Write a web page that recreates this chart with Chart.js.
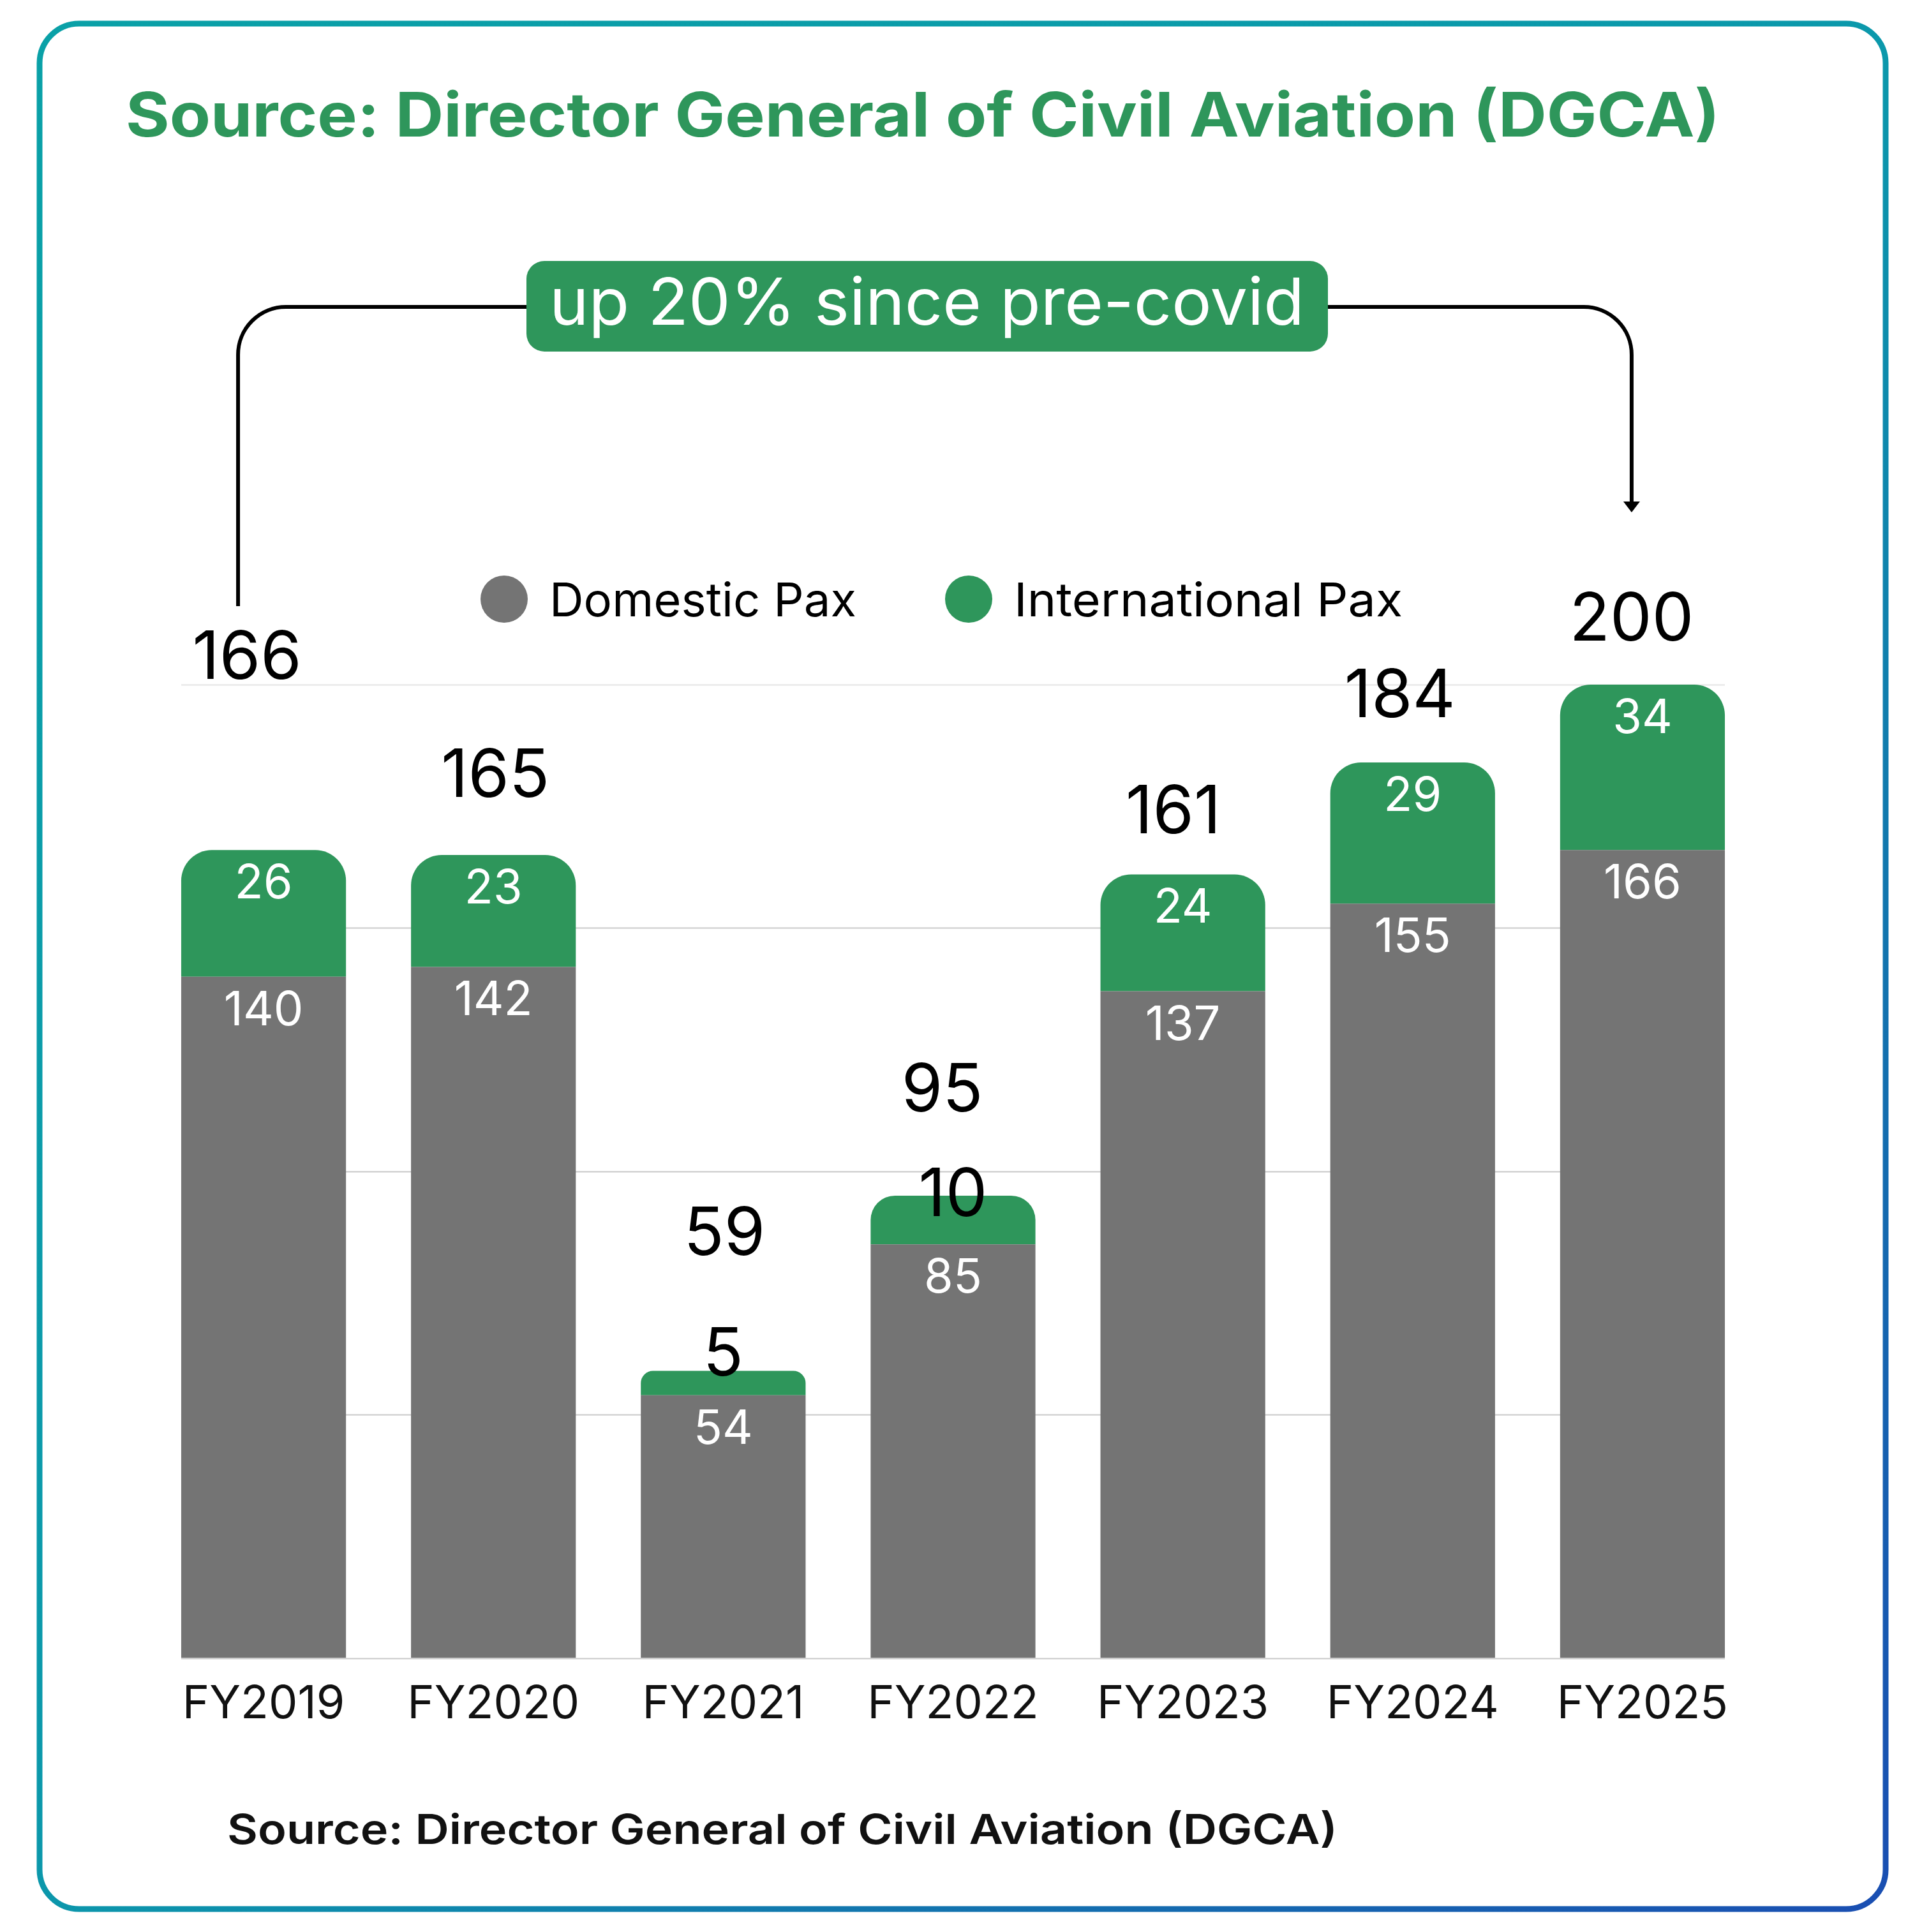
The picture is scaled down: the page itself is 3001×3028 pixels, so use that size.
<!DOCTYPE html>
<html>
<head>
<meta charset="utf-8">
<title>Domestic and International Pax</title>
<script src="https://cdn.jsdelivr.net/npm/chart.js@4.4.1/dist/chart.umd.min.js"></script>
<style>
  html, body { margin: 0; padding: 0; background: #fff; }
  #wrap { width: 3001px; height: 3028px; position: relative; }
</style>
</head>
<body>
<div id="wrap"><canvas id="paxChart"></canvas></div>
<script>
// values (million passengers)
const years = ["FY2019", "FY2020", "FY2021", "FY2022", "FY2023", "FY2024", "FY2025"];
const domesticPax = [140, 142, 54, 85, 137, 155, 166];
const internationalPax = [26, 23, 5, 10, 24, 29, 34];
const totalPax = [166, 165, 59, 95, 161, 184, 200];
const gridValues = [0, 50, 100, 150, 200];

const GREEN = "#2e965b";
const GREY = "#747474";
const FONT = "Inter, 'Open Sans', sans-serif";

// how far the big black labels sit above their bar top, and sideways nudge (px)
const totalLift = [268, 91, 182, 132, 64, 71, 69];
const totalShift = [-26, 3, 2, -17, -15, -20, -17];
// small international values are written in black over the bar top
const smallIntlLift = [null, null, -7, -32, null, null, null];

function fitText(ctx, text, x, y, width, font, color) {
  ctx.save();
  ctx.font = font;
  ctx.fillStyle = color;
  ctx.textAlign = "left";
  ctx.textBaseline = "alphabetic";
  const w = ctx.measureText(text).width;
  ctx.translate(x, y);
  ctx.scale(width / w, 1);
  ctx.fillText(text, 0, 0);
  ctx.restore();
}

function roundRect(ctx, x, y, w, h, r) {
  ctx.beginPath();
  ctx.moveTo(x + r, y);
  ctx.arcTo(x + w, y, x + w, y + h, r);
  ctx.arcTo(x + w, y + h, x, y + h, r);
  ctx.arcTo(x, y + h, x, y, r);
  ctx.arcTo(x, y, x + w, y, r);
  ctx.closePath();
}

const frame = {
  id: "frame",
  beforeDraw(chart) {
    const ctx = chart.ctx;
    ctx.save();
    ctx.fillStyle = "#fff";
    ctx.fillRect(0, 0, chart.width, chart.height);

    // card border with teal -> blue gradient
    const g = ctx.createLinearGradient(0, 0, chart.width, chart.height);
    g.addColorStop(0, "#0aa1a7");
    g.addColorStop(0.5, "#0b98ab");
    g.addColorStop(1, "#1a4cb2");
    ctx.strokeStyle = g;
    ctx.lineWidth = 9;
    roundRect(ctx, 62, 37, 2893, 2955, 62);
    ctx.stroke();

    // heading
    fitText(ctx, "Source: Director General of Civil Aviation (DGCA)", 197, 214, 2498, "700 96px " + FONT, GREEN);

    // badge
    ctx.fillStyle = GREEN;
    roundRect(ctx, 825, 409, 1256, 142, 28);
    ctx.fill();
    fitText(ctx, "up 20% since pre-covid", 861, 509, 1183, "400 102px " + FONT, "#fff");

    // bracket from FY2019 to FY2025
    const bars = chart.getDatasetMeta(1).data;
    const xL = bars[0].x - 40;
    const xR = bars[bars.length - 1].x - 17;
    const yTop = 481, r = 75;
    ctx.strokeStyle = "#000";
    ctx.lineWidth = 6;
    ctx.beginPath();
    ctx.moveTo(xL, 950);
    ctx.lineTo(xL, yTop + r);
    ctx.arcTo(xL, yTop, xL + r, yTop, r);
    ctx.lineTo(825, yTop);
    ctx.moveTo(2081, yTop);
    ctx.lineTo(xR - r, yTop);
    ctx.arcTo(xR, yTop, xR, yTop + r, r);
    ctx.lineTo(xR, 790);
    ctx.stroke();
    ctx.fillStyle = "#000";
    ctx.beginPath();
    ctx.moveTo(xR - 13, 786);
    ctx.lineTo(xR + 13, 786);
    ctx.lineTo(xR, 803);
    ctx.closePath();
    ctx.fill();

    // legend
    const legendX = [790, 1518];
    const legendW = [481, 609];
    chart.data.datasets.forEach((ds, i) => {
      ctx.fillStyle = ds.backgroundColor;
      ctx.beginPath();
      ctx.arc(legendX[i], 939, 37, 0, Math.PI * 2);
      ctx.fill();
      fitText(ctx, ds.label, legendX[i] + 71, 966, legendW[i], "400 73px " + FONT, "#000");
    });

    // footer
    fitText(ctx, "Source: Director General of Civil Aviation (DGCA)", 356, 2890, 1740, "600 65px " + FONT, "#111");
    ctx.restore();
  },
  beforeDatasetsDraw(chart) {
    const ctx = chart.ctx;
    const y = chart.scales.y;
    const bars = chart.getDatasetMeta(0).data;
    const x0 = bars[0].x - bars[0].width / 2;
    const x1 = bars[bars.length - 1].x + bars[bars.length - 1].width / 2;
    ctx.save();
    ctx.lineWidth = 2;
    gridValues.forEach(v => {
      const py = Math.round(y.getPixelForValue(v)) + 0.5;
      ctx.strokeStyle = v === y.max ? "#e4e4e4" : "#c9c9c9";
      ctx.beginPath();
      ctx.moveTo(x0, py);
      ctx.lineTo(x1, py);
      ctx.stroke();
    });
    ctx.restore();
  },
  afterDatasetsDraw(chart) {
    const ctx = chart.ctx;
    const dom = chart.getDatasetMeta(0).data;
    const intl = chart.getDatasetMeta(1).data;
    ctx.save();
    ctx.textAlign = "center";
    ctx.textBaseline = "alphabetic";
    dom.forEach((bar, i) => {
      ctx.font = "400 74px " + FONT;
      ctx.fillStyle = "#fff";
      ctx.fillText(String(domesticPax[i]), bar.x, bar.y + 76);
    });
    intl.forEach((bar, i) => {
      if (smallIntlLift[i] === null) {
        ctx.font = "400 74px " + FONT;
        ctx.fillStyle = "#fff";
        ctx.fillText(String(internationalPax[i]), bar.x, bar.y + 76);
      } else {
        ctx.font = "400 104px " + FONT;
        ctx.fillStyle = "#000";
        ctx.fillText(String(internationalPax[i]), bar.x, bar.y - smallIntlLift[i]);
      }
      ctx.font = "400 104px " + FONT;
      ctx.fillStyle = "#000";
      ctx.fillText(String(totalPax[i]), bar.x + totalShift[i], bar.y - totalLift[i]);
    });
    ctx.restore();
  }
};

new Chart(document.getElementById("paxChart"), {
  type: "bar",
  data: {
    labels: years,
    datasets: [
      { label: "Domestic Pax", data: domesticPax, backgroundColor: GREY, borderRadius: 0 },
      { label: "International Pax", data: internationalPax, backgroundColor: GREEN,
        borderRadius: { topLeft: 48, topRight: 48, bottomLeft: 0, bottomRight: 0 }, borderSkipped: "start" }
    ]
  },
  options: {
    responsive: true,
    maintainAspectRatio: false,
    animation: false,
    datasets: { bar: { categoryPercentage: 1, barPercentage: 0.717 } },
    layout: { padding: { left: 233, right: 247, top: 1073, bottom: 291 } },
    plugins: { legend: { display: false }, tooltip: { enabled: false }, title: { display: false } },
    scales: {
      x: {
        stacked: true,
        grid: { display: false },
        border: { display: false },
        ticks: { color: "#111", padding: 22, font: { family: FONT, size: 72 } }
      },
      y: { stacked: true, display: false, min: 0, max: 200 }
    }
  },
  plugins: [frame]
});
</script>
</body>
</html>
